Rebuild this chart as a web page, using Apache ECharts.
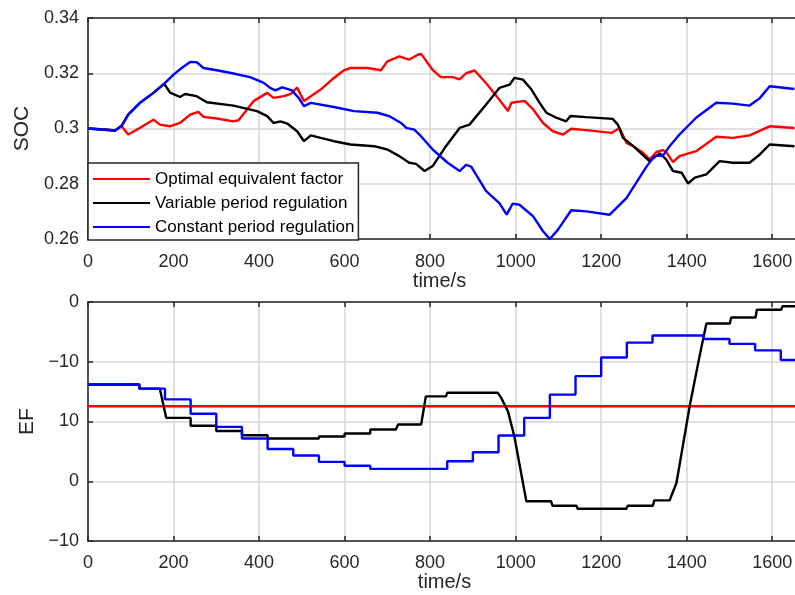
<!DOCTYPE html>
<html>
<head>
<meta charset="utf-8">
<script src="https://cdn.jsdelivr.net/npm/echarts@6/dist/echarts.min.js"></script>
<style>html,body{margin:0;padding:0;background:#fff}#c{width:795px;height:595px}</style>
</head>
<body>
<div id="c"></div>
<script>
// ---------- data ----------
const seriesNames = ['Optimal equivalent factor', 'Variable period regulation', 'Constant period regulation'];
const xTicks = [0, 200, 400, 600, 800, 1000, 1200, 1400, 1600];

// Top plot: SOC
const socRedT = [0,40,65,78,94,121,153,168,192,215,239,258,270,301,340,352,372,387,419,434,458,474,489,505,521,544,575,599,614,654,685,700,728,751,771,779,806,825,853,869,884,904,931,962,982,990,1021,1041,1064,1087,1111,1130,1165,1224,1243,1259,1275,1298,1313,1329,1344,1352,1368,1383,1422,1469,1508,1547,1594,1652];
const socRedV = [0.300,0.2997,0.2993,0.3010,0.2978,0.3002,0.3032,0.3014,0.3008,0.302,0.305,0.306,0.3042,0.3036,0.3026,0.3030,0.3069,0.3099,0.3129,0.3111,0.3117,0.3125,0.3148,0.3099,0.3117,0.3141,0.3183,0.3211,0.3219,0.3219,0.3211,0.3243,0.3261,0.3249,0.3267,0.327,0.3212,0.3186,0.3186,0.3178,0.320,0.321,0.3164,0.3104,0.3063,0.3093,0.310,0.3069,0.302,0.299,0.2978,0.2999,0.2994,0.2984,0.3002,0.2948,0.2936,0.2912,0.2888,0.2915,0.2922,0.2915,0.2878,0.290,0.2918,0.297,0.2966,0.2975,0.3008,0.3002];

const socBlackT = [0,63,78,94,121,153,178,192,215,227,254,278,340,395,419,434,450,466,489,505,521,544,575,614,669,700,728,751,767,787,806,837,869,892,931,962,986,997,1017,1037,1056,1072,1095,1118,1128,1165,1227,1239,1251,1275,1313,1337,1352,1368,1388,1403,1419,1446,1477,1508,1547,1571,1594,1652];
const socBlackV = [0.300,0.2993,0.3008,0.305,0.3092,0.3129,0.3162,0.313,0.3114,0.3125,0.3117,0.3095,0.3083,0.3063,0.3045,0.302,0.3026,0.3018,0.299,0.2954,0.2975,0.2966,0.2954,0.2942,0.2936,0.2924,0.2900,0.2876,0.2872,0.2846,0.2864,0.2936,0.3002,0.3014,0.3087,0.3147,0.3159,0.3183,0.3177,0.3141,0.3093,0.3057,0.3039,0.3026,0.3045,0.3041,0.3035,0.3014,0.2966,0.2936,0.2882,0.291,0.2888,0.2846,0.284,0.2801,0.2822,0.2834,0.2882,0.2876,0.2876,0.2906,0.2942,0.2936];

const socBlueT = [0,63,78,94,121,153,176,200,219,239,254,270,301,340,379,411,426,438,454,477,493,505,521,575,622,677,704,732,744,763,775,806,841,869,884,896,931,962,979,993,1009,1041,1064,1080,1099,1130,1165,1220,1259,1306,1325,1344,1360,1383,1422,1469,1508,1547,1571,1594,1652];
const socBlueV = [0.300,0.2993,0.3008,0.305,0.3092,0.3129,0.3159,0.3195,0.3219,0.3241,0.324,0.3219,0.3211,0.3199,0.3186,0.3165,0.3147,0.3138,0.3149,0.3138,0.311,0.3081,0.3093,0.3078,0.3063,0.3057,0.3045,0.302,0.3002,0.2996,0.2978,0.2924,0.2876,0.2846,0.2868,0.2862,0.2773,0.273,0.2688,0.2728,0.2724,0.2682,0.2628,0.260,0.2634,0.2704,0.2700,0.2688,0.2748,0.2862,0.2901,0.2901,0.2936,0.2978,0.3039,0.3093,0.3090,0.3083,0.311,0.3153,0.3143];

// Bottom plot: EF
const efRedT = [0, 1700];
const efRedV = [12.55, 12.55];

const efBlackT = [0,120,120,168,183,240,240,300,300,360,360,420,420,540,540,600,600,660,660,720,725,779,790,837,840,958,966,982,997,1025,1083,1086,1142,1145,1259,1262,1321,1324,1360,1376,1407,1430,1446,1501,1504,1561,1564,1621,1624,1700];
const efBlackV = [16.2,16.2,15.5,15.5,10.6,10.6,9.3,9.3,8.4,8.4,7.7,7.7,7.15,7.15,7.5,7.5,8.0,8.0,8.66,8.66,9.5,9.5,14.2,14.2,14.8,14.8,14.0,11.7,7.5,-3.35,-3.35,-4.1,-4.1,-4.6,-4.6,-4.1,-4.1,-3.2,-3.2,-0.3,12.6,20.9,26.4,26.4,27.4,27.4,28.7,28.7,29.3,29.3];

const efBlueT = [0,120,180,240,300,360,420,480,540,600,660,840,900,960,1020,1080,1140,1200,1260,1320,1440,1500,1560,1620,1700];
const efBlueV = [16.2,15.5,13.7,11.3,9.1,7.15,5.4,4.3,3.24,2.6,2.07,3.35,4.86,7.65,10.6,14.5,17.6,20.7,23.2,24.4,23.8,23.0,21.9,20.3,20.3];

// EF axis tick labels as printed in the figure
const efTickValues = [30, 20, 10, 0, -10];
const efTickLabels = ['0', '\u221210', '10', '0', '\u221210'];

// ---------- chart ----------
const zip = (t, v) => t.map((x, i) => [x, v[i]]);
const FONT = 'Liberation Sans, Arial, Helvetica, sans-serif';
const TXT = '#262626';
const GRIDC = '#d6d6d6';
const colors = ['#ff0000', '#000000', '#0000ff'];

function xAxisBottom(gi, margin, gap, shift) {
  return {
    type: 'value', gridIndex: gi, position: 'bottom', min: 0, max: 1700, interval: 200,
    name: 'time/s', nameLocation: 'middle', nameGap: gap,
    nameTextStyle: { fontFamily: FONT, fontSize: 20, color: TXT, padding: [0, shift, 0, 0] },
    axisLine: { show: true, onZero: false, lineStyle: { color: TXT, width: 1.5 } },
    axisTick: { show: true, inside: true, length: 5, lineStyle: { color: TXT, width: 1.5 } },
    axisLabel: { fontFamily: FONT, fontSize: 18, color: TXT, margin: margin,
      formatter: v => (xTicks.indexOf(v) >= 0 ? String(v) : '') },
    splitLine: { show: true, lineStyle: { color: GRIDC, width: 1.5 } }
  };
}
function xAxisTop(gi) {
  return {
    type: 'value', gridIndex: gi, position: 'top', min: 0, max: 1700, interval: 200,
    axisLine: { show: true, onZero: false, lineStyle: { color: TXT, width: 1.5 } },
    axisTick: { show: true, inside: true, length: 5, lineStyle: { color: TXT, width: 1.5 } },
    axisLabel: { show: false }, splitLine: { show: false }
  };
}
function line(name, data, xi, yi, color, z) {
  return { name, type: 'line', xAxisIndex: xi, yAxisIndex: yi, data, symbol: 'none',
    showSymbol: false, z: z, lineStyle: { color, width: 2.4 }, itemStyle: { color } };
}

const chart = echarts.init(document.getElementById('c'), null, { renderer: 'canvas' });
chart.setOption({
  animation: false,
  backgroundColor: '#ffffff',
  grid: [
    { left: 88, top: 18, width: 727, height: 221, outerBoundsMode: 'none', containLabel: false },
    { left: 88, top: 302, width: 727, height: 239, outerBoundsMode: 'none', containLabel: false }
  ],
  xAxis: [xAxisBottom(0, 14, 32, 24), xAxisTop(0), xAxisBottom(1, 13, 27, 14), xAxisTop(1)],
  yAxis: [
    { type: 'value', gridIndex: 0, min: 0.26, max: 0.34, interval: 0.02,
      name: 'SOC', nameLocation: 'middle', nameGap: 53,
      nameTextStyle: { fontFamily: FONT, fontSize: 21, color: TXT },
      axisLine: { show: true, onZero: false, lineStyle: { color: TXT, width: 1.5 } },
      axisTick: { show: true, inside: true, length: 5, lineStyle: { color: TXT, width: 1.5 } },
      axisLabel: { fontFamily: FONT, fontSize: 18, color: TXT, margin: 9 },
      splitLine: { show: true, lineStyle: { color: GRIDC, width: 1.5 } } },
    { type: 'value', gridIndex: 1, min: -10, max: 30, interval: 10,
      name: 'EF', nameLocation: 'middle', nameGap: 45,
      nameTextStyle: { fontFamily: FONT, fontSize: 21, color: TXT },
      axisLine: { show: true, onZero: false, lineStyle: { color: TXT, width: 1.5 } },
      axisTick: { show: true, inside: true, length: 5, lineStyle: { color: TXT, width: 1.5 } },
      axisLabel: { fontFamily: FONT, fontSize: 18, color: TXT, margin: 9,
        formatter: v => { const i = efTickValues.indexOf(v); return i >= 0 ? efTickLabels[i] : ''; } },
      splitLine: { show: true, lineStyle: { color: GRIDC, width: 1.5 } } }
  ],
  legend: {
    data: seriesNames, orient: 'vertical', left: 88, top: 163,
    icon: 'rect', itemWidth: 57, itemHeight: 2.2, itemGap: 6,
    padding: [7, 4, 4, 5],
    backgroundColor: '#ffffff', borderColor: TXT, borderWidth: 1.5,
    textStyle: { fontFamily: FONT, fontSize: 17, color: '#000', lineHeight: 18 },
    z: 10
  },
  series: [
    line(seriesNames[0], zip(socRedT, socRedV), 0, 0, colors[0], 2),
    line(seriesNames[1], zip(socBlackT, socBlackV), 0, 0, colors[1], 3),
    line(seriesNames[2], zip(socBlueT, socBlueV), 0, 0, colors[2], 4),
    line(seriesNames[0], zip(efRedT, efRedV), 2, 1, colors[0], 2),
    line(seriesNames[1], zip(efBlackT, efBlackV), 2, 1, colors[1], 3),
    Object.assign(line(seriesNames[2], zip(efBlueT, efBlueV), 2, 1, colors[2], 4), { step: 'end' })
  ]
});
</script>
</body>
</html>
